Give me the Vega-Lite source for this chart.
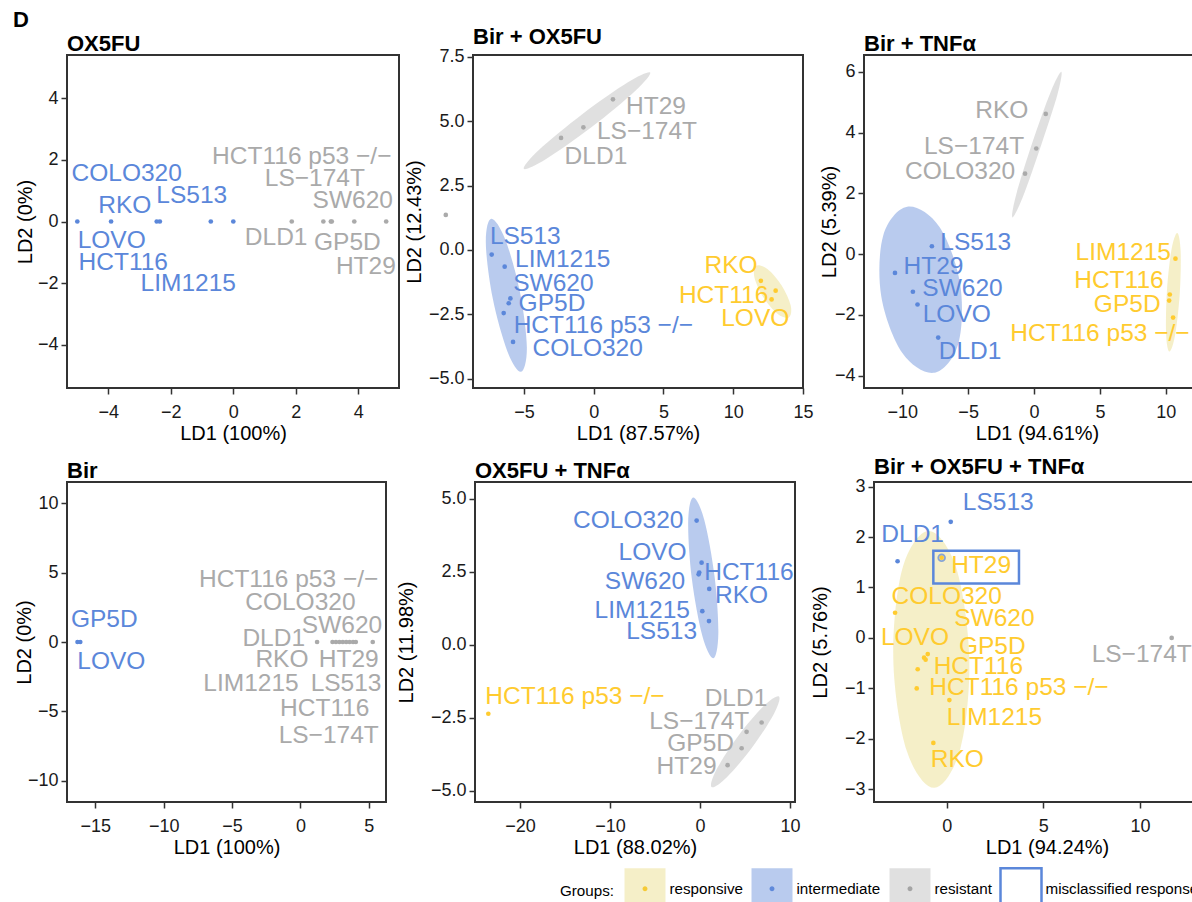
{
"$schema": "https://vega.github.io/schema/vega-lite/v6.json",
"background": "white",
"padding": {"left": 13, "top": 8, "right": 0, "bottom": 0},
"title": {"text": "D", "frame": "bounds", "anchor": "start", "fontSize": 22, "fontWeight": "bold", "offset": -7},
"config": {
 "font": "Liberation Sans",
 "view": {"stroke": "#333333", "strokeWidth": 2},
 "axis": {"grid": false, "domain": false, "ticks": true, "tickColor": "#333333", "tickSize": 6, "tickWidth": 1.5, "labelFont": "Liberation Sans", "labelFontSize": 18, "labelColor": "#1a1a1a", "labelPadding": 3, "labelFlush": false, "labelOverlap": false, "titleFont": "Liberation Sans", "titleFontSize": 20, "titleFontWeight": "normal", "titleColor": "#000000", "titlePadding": 2},
 "axisX": {"labelPadding": 9},
 "title": {"font": "Liberation Sans", "fontSize": 22, "fontWeight": "bold", "anchor": "start", "frame": "group", "offset": -1, "color": "#000000"},
 "text": {"font": "Liberation Sans"},
 "legend": {"labelFont": "Liberation Sans", "titleFont": "Liberation Sans"}
},
"datasets": {
 "pts": [
  {"p":1,"n":"COLO320","g":"intermediate","x":-2.45,"y":0,"lx":-3.41,"ly":1.53},
  {"p":1,"n":"RKO","g":"intermediate","x":-3.91,"y":0,"lx":-3.47,"ly":0.49},
  {"p":1,"n":"LS513","g":"intermediate","x":-0.72,"y":0,"lx":-1.33,"ly":0.82},
  {"p":1,"n":"LOVO","g":"intermediate","x":-4.99,"y":0,"lx":-3.89,"ly":-0.62},
  {"p":1,"n":"HCT116","g":"intermediate","x":-2.35,"y":0,"lx":-3.52,"ly":-1.33},
  {"p":1,"n":"LIM1215","g":"intermediate","x":0.0,"y":0,"lx":-1.44,"ly":-2.03},
  {"p":1,"n":"HCT116 p53 −/−","g":"resistant","x":3.12,"y":0,"lx":2.19,"ly":2.09},
  {"p":1,"n":"LS−174T","g":"resistant","x":3.15,"y":0,"lx":2.61,"ly":1.39},
  {"p":1,"n":"SW620","g":"resistant","x":3.87,"y":0,"lx":3.82,"ly":0.65},
  {"p":1,"n":"DLD1","g":"resistant","x":1.87,"y":0,"lx":1.37,"ly":-0.55},
  {"p":1,"n":"GP5D","g":"resistant","x":2.88,"y":0,"lx":3.65,"ly":-0.69},
  {"p":1,"n":"HT29","g":"resistant","x":4.89,"y":0,"lx":4.24,"ly":-1.46},
  {"p":2,"n":"DLD1","g":"resistant","x":-2.34,"y":4.35,"lx":0.16,"ly":3.61},
  {"p":2,"n":"LS−174T","g":"resistant","x":-0.74,"y":4.76,"lx":3.82,"ly":4.58},
  {"p":2,"n":"HT29","g":"resistant","x":1.38,"y":5.85,"lx":4.46,"ly":5.55},
  {"p":2,"n":"","g":"resistant","x":-10.6,"y":1.36,"lx":-10.6,"ly":1.36},
  {"p":2,"n":"LS513","g":"intermediate","x":-7.31,"y":-0.18,"lx":-4.9,"ly":0.49},
  {"p":2,"n":"LIM1215","g":"intermediate","x":-6.38,"y":-0.65,"lx":-2.22,"ly":-0.39},
  {"p":2,"n":"SW620","g":"intermediate","x":-5.97,"y":-1.88,"lx":-2.89,"ly":-1.32},
  {"p":2,"n":"GP5D","g":"intermediate","x":-6.09,"y":-2.07,"lx":-2.99,"ly":-2.08},
  {"p":2,"n":"HCT116 p53 −/−","g":"intermediate","x":-6.45,"y":-2.45,"lx":0.69,"ly":-2.94},
  {"p":2,"n":"COLO320","g":"intermediate","x":-5.78,"y":-3.57,"lx":-0.43,"ly":-3.86},
  {"p":2,"n":"RKO","g":"responsive","x":11.98,"y":-1.2,"lx":9.84,"ly":-0.62},
  {"p":2,"n":"HCT116","g":"responsive","x":13.04,"y":-1.58,"lx":9.31,"ly":-1.78},
  {"p":2,"n":"LOVO","g":"responsive","x":12.75,"y":-1.92,"lx":11.58,"ly":-2.7},
  {"p":3,"n":"RKO","g":"resistant","x":0.89,"y":4.62,"lx":-2.45,"ly":4.72},
  {"p":3,"n":"LS−174T","g":"resistant","x":0.17,"y":3.48,"lx":-4.55,"ly":3.54},
  {"p":3,"n":"COLO320","g":"resistant","x":-0.68,"y":2.65,"lx":-5.61,"ly":2.7},
  {"p":3,"n":"LS513","g":"intermediate","x":-7.75,"y":0.26,"lx":-4.42,"ly":0.36},
  {"p":3,"n":"HT29","g":"intermediate","x":-10.55,"y":-0.62,"lx":-7.63,"ly":-0.41},
  {"p":3,"n":"SW620","g":"intermediate","x":-9.19,"y":-1.24,"lx":-5.43,"ly":-1.16},
  {"p":3,"n":"LOVO","g":"intermediate","x":-8.84,"y":-1.66,"lx":-5.86,"ly":-2.01},
  {"p":3,"n":"DLD1","g":"intermediate","x":-7.27,"y":-2.75,"lx":-4.85,"ly":-3.21},
  {"p":3,"n":"LIM1215","g":"responsive","x":10.73,"y":-0.15,"lx":6.77,"ly":0.04},
  {"p":3,"n":"HCT116","g":"responsive","x":10.3,"y":-1.33,"lx":6.44,"ly":-0.88},
  {"p":3,"n":"GP5D","g":"responsive","x":10.25,"y":-1.53,"lx":7.07,"ly":-1.68},
  {"p":3,"n":"HCT116 p53 −/−","g":"responsive","x":10.55,"y":-2.09,"lx":5.0,"ly":-2.64},
  {"p":4,"n":"GP5D","g":"intermediate","x":-16.3,"y":0,"lx":-14.34,"ly":1.57},
  {"p":4,"n":"LOVO","g":"intermediate","x":-16.1,"y":0,"lx":-13.83,"ly":-1.45},
  {"p":4,"n":"DLD1","g":"resistant","x":1.22,"y":0,"lx":-1.95,"ly":0.2},
  {"p":4,"n":"HCT116 p53 −/−","g":"resistant","x":2.35,"y":0,"lx":-0.86,"ly":4.48},
  {"p":4,"n":"COLO320","g":"resistant","x":2.6,"y":0,"lx":0.0,"ly":2.81},
  {"p":4,"n":"SW620","g":"resistant","x":2.85,"y":0,"lx":3.04,"ly":1.16},
  {"p":4,"n":"RKO","g":"resistant","x":3.1,"y":0,"lx":-1.35,"ly":-1.33},
  {"p":4,"n":"HT29","g":"resistant","x":3.35,"y":0,"lx":3.53,"ly":-1.33},
  {"p":4,"n":"LIM1215","g":"resistant","x":3.6,"y":0,"lx":-3.61,"ly":-3.03},
  {"p":4,"n":"LS513","g":"resistant","x":3.85,"y":0,"lx":3.34,"ly":-3.03},
  {"p":4,"n":"HCT116","g":"resistant","x":4.05,"y":0,"lx":1.78,"ly":-4.84},
  {"p":4,"n":"LS−174T","g":"resistant","x":5.29,"y":0,"lx":2.07,"ly":-6.77},
  {"p":5,"n":"COLO320","g":"intermediate","x":-0.37,"y":4.25,"lx":-7.97,"ly":4.25},
  {"p":5,"n":"LOVO","g":"intermediate","x":0.18,"y":2.81,"lx":-5.26,"ly":3.15},
  {"p":5,"n":"HCT116","g":"intermediate","x":-0.08,"y":2.47,"lx":5.44,"ly":2.47},
  {"p":5,"n":"SW620","g":"intermediate","x":-0.15,"y":2.41,"lx":-6.11,"ly":2.15},
  {"p":5,"n":"RKO","g":"intermediate","x":1.03,"y":1.91,"lx":4.63,"ly":1.66},
  {"p":5,"n":"LIM1215","g":"intermediate","x":0.26,"y":1.15,"lx":-6.41,"ly":1.15},
  {"p":5,"n":"LS513","g":"intermediate","x":1.0,"y":0.81,"lx":-4.26,"ly":0.43},
  {"p":5,"n":"HCT116 p53 −/−","g":"responsive","x":-23.52,"y":-2.36,"lx":-13.89,"ly":-1.8},
  {"p":5,"n":"DLD1","g":"resistant","x":6.85,"y":-2.66,"lx":4.0,"ly":-1.86},
  {"p":5,"n":"LS−174T","g":"resistant","x":5.18,"y":-2.98,"lx":-0.08,"ly":-2.63},
  {"p":5,"n":"GP5D","g":"resistant","x":4.63,"y":-3.54,"lx":0.07,"ly":-3.4},
  {"p":5,"n":"HT29","g":"resistant","x":3.07,"y":-4.12,"lx":-1.49,"ly":-4.17},
  {"p":6,"n":"LS513","g":"intermediate","x":0.21,"y":2.3,"lx":2.67,"ly":2.68},
  {"p":6,"n":"DLD1","g":"intermediate","x":-2.54,"y":1.52,"lx":-1.76,"ly":2.04},
  {"p":6,"n":"HT29","g":"responsive","x":-0.26,"y":1.59,"lx":1.78,"ly":1.43,"m":1},
  {"p":6,"n":"COLO320","g":"responsive","x":-2.67,"y":0.5,"lx":0.0,"ly":0.81},
  {"p":6,"n":"SW620","g":"responsive","x":-0.98,"y":-0.32,"lx":2.47,"ly":0.38},
  {"p":6,"n":"LOVO","g":"responsive","x":-1.17,"y":-0.39,"lx":-1.64,"ly":-0.01},
  {"p":6,"n":"GP5D","g":"responsive","x":-1.09,"y":-0.43,"lx":2.36,"ly":-0.18},
  {"p":6,"n":"HCT116","g":"responsive","x":-1.5,"y":-0.62,"lx":1.64,"ly":-0.57},
  {"p":6,"n":"HCT116 p53 −/−","g":"responsive","x":-1.55,"y":-1.0,"lx":3.74,"ly":-1.0},
  {"p":6,"n":"LIM1215","g":"responsive","x":0.14,"y":-1.23,"lx":2.47,"ly":-1.59},
  {"p":6,"n":"RKO","g":"responsive","x":-0.69,"y":-2.08,"lx":0.55,"ly":-2.41},
  {"p":6,"n":"LS−174T","g":"resistant","x":11.64,"y":0,"lx":10.09,"ly":-0.34}
 ],
 "ell": [
  {"p":2,"g":"resistant","i":0,"x":4.05,"y":6.89},{"p":2,"g":"resistant","i":1,"x":2.97,"y":6.17},{"p":2,"g":"resistant","i":2,"x":-0.14,"y":4.77},{"p":2,"g":"resistant","i":3,"x":-3.44,"y":3.52},{"p":2,"g":"resistant","i":4,"x":-5.01,"y":3.15},{"p":2,"g":"resistant","i":5,"x":-3.93,"y":3.88},{"p":2,"g":"resistant","i":6,"x":-0.82,"y":5.27},{"p":2,"g":"resistant","i":7,"x":2.48,"y":6.52},
  {"p":2,"g":"intermediate","i":0,"x":-5.21,"y":-4.73},{"p":2,"g":"intermediate","i":1,"x":-6.19,"y":-3.93},{"p":2,"g":"intermediate","i":2,"x":-7.24,"y":-1.87},{"p":2,"g":"intermediate","i":3,"x":-7.73,"y":0.26},{"p":2,"g":"intermediate","i":4,"x":-7.35,"y":1.21},{"p":2,"g":"intermediate","i":5,"x":-6.34,"y":0.41},{"p":2,"g":"intermediate","i":6,"x":-5.28,"y":-1.65},{"p":2,"g":"intermediate","i":7,"x":-4.79,"y":-3.78},
  {"p":2,"g":"responsive","i":0,"x":13.99,"y":-2.62},{"p":2,"g":"responsive","i":1,"x":13.19,"y":-2.49},{"p":2,"g":"responsive","i":2,"x":12.17,"y":-1.85},{"p":2,"g":"responsive","i":3,"x":11.52,"y":-1.07},{"p":2,"g":"responsive","i":4,"x":11.64,"y":-0.61},{"p":2,"g":"responsive","i":5,"x":12.45,"y":-0.74},{"p":2,"g":"responsive","i":6,"x":13.47,"y":-1.38},{"p":2,"g":"responsive","i":7,"x":14.12,"y":-2.16},
  {"p":3,"g":"resistant","i":0,"x":2.07,"y":6.01},{"p":3,"g":"resistant","i":1,"x":1.78,"y":5.27},{"p":3,"g":"resistant","i":2,"x":0.57,"y":3.63},{"p":3,"g":"resistant","i":3,"x":-0.85,"y":1.88},{"p":3,"g":"resistant","i":4,"x":-1.64,"y":1.21},{"p":3,"g":"resistant","i":5,"x":-1.36,"y":1.95},{"p":3,"g":"resistant","i":6,"x":-0.14,"y":3.66},{"p":3,"g":"resistant","i":7,"x":1.27,"y":5.35},
  {"p":3,"g":"intermediate","i":0,"x":-7.58,"y":-3.91},{"p":3,"g":"intermediate","i":1,"x":-9.99,"y":-3.26},{"p":3,"g":"intermediate","i":2,"x":-11.59,"y":-1.39},{"p":3,"g":"intermediate","i":3,"x":-11.44,"y":0.61},{"p":3,"g":"intermediate","i":4,"x":-9.62,"y":1.56},{"p":3,"g":"intermediate","i":5,"x":-7.2,"y":0.91},{"p":3,"g":"intermediate","i":6,"x":-5.61,"y":-0.97},{"p":3,"g":"intermediate","i":7,"x":-5.76,"y":-2.97},
  {"p":3,"g":"responsive","i":0,"x":10.27,"y":-3.21},{"p":3,"g":"responsive","i":1,"x":10.02,"y":-2.63},{"p":3,"g":"responsive","i":2,"x":10.08,"y":-1.24},{"p":3,"g":"responsive","i":3,"x":10.42,"y":0.13},{"p":3,"g":"responsive","i":4,"x":10.86,"y":0.7},{"p":3,"g":"responsive","i":5,"x":11.12,"y":0.12},{"p":3,"g":"responsive","i":6,"x":11.06,"y":-1.27},{"p":3,"g":"responsive","i":7,"x":10.71,"y":-2.65},
  {"p":5,"g":"intermediate","i":0,"x":1.48,"y":-0.46},{"p":5,"g":"intermediate","i":1,"x":0.26,"y":0.31},{"p":5,"g":"intermediate","i":2,"x":-0.9,"y":2.25},{"p":5,"g":"intermediate","i":3,"x":-1.31,"y":4.21},{"p":5,"g":"intermediate","i":4,"x":-0.74,"y":5.04},{"p":5,"g":"intermediate","i":5,"x":0.48,"y":4.27},{"p":5,"g":"intermediate","i":6,"x":1.63,"y":2.32},{"p":5,"g":"intermediate","i":7,"x":2.04,"y":0.38},
  {"p":5,"g":"resistant","i":0,"x":8.78,"y":-1.77},{"p":5,"g":"resistant","i":1,"x":8.24,"y":-2.35},{"p":5,"g":"resistant","i":2,"x":5.83,"y":-3.5},{"p":5,"g":"resistant","i":3,"x":2.96,"y":-4.54},{"p":5,"g":"resistant","i":4,"x":1.29,"y":-4.87},{"p":5,"g":"resistant","i":5,"x":1.82,"y":-4.28},{"p":5,"g":"resistant","i":6,"x":4.23,"y":-3.13},{"p":5,"g":"resistant","i":7,"x":7.11,"y":-2.09},
  {"p":6,"g":"responsive","i":0,"x":-0.64,"y":-2.97},{"p":6,"g":"responsive","i":1,"x":-2.07,"y":-2.23},{"p":6,"g":"responsive","i":2,"x":-2.76,"y":-0.44},{"p":6,"g":"responsive","i":3,"x":-2.3,"y":1.36},{"p":6,"g":"responsive","i":4,"x":-0.94,"y":2.12},{"p":6,"g":"responsive","i":5,"x":0.49,"y":1.39},{"p":6,"g":"responsive","i":6,"x":1.17,"y":-0.41},{"p":6,"g":"responsive","i":7,"x":0.71,"y":-2.19}
 ],
 "box": [
  {"p":6,"x1":-0.69,"x2":3.74,"y1":1.08,"y2":1.73}
 ]
},
"spacing": 10,
"vconcat": [
 {"spacing": 3, "hconcat": [
  {"width": 332, "height": 333, "title": "OX5FU",
   "data": {"name": "pts"}, "transform": [{"filter": "datum.p == 1"}],
   "encoding": {
    "x": {"field": "x", "type": "quantitative", "title": "LD1 (100%)", "scale": {"domain": [-5.32, 5.3], "nice": false, "zero": false}, "axis": {"values": [-4,-2,0,2,4]}},
    "y": {"field": "y", "type": "quantitative", "title": "LD2 (0%)", "scale": {"domain": [-5.4, 5.4], "nice": false, "zero": false}, "axis": {"values": [-4,-2,0,2,4], "minExtent": 30, "maxExtent": 30}}
   },
   "layer": [
    {"mark": {"type": "point", "filled": true, "size": 22, "opacity": 1},
     "encoding": {"fill": {"field": "g", "type": "nominal", "scale": {"domain": ["responsive","intermediate","resistant"], "range": ["#ffcb2f","#5b87da","#aaaaaa"]},
       "legend": {"title": "Groups:", "orient": "none", "legendX": 493, "legendY": 811.5, "direction": "horizontal", "titleOrient": "left", "titleAnchor": "middle", "titleBaseline": "middle", "titleFontSize": 15.2, "titleFontWeight": "normal", "titleColor": "transparent", "titlePadding": 8, "symbolType": "M-1,-1M1,1M-0.12,0A0.12,0.12,0,1,0,0.12,0A0.12,0.12,0,1,0,-0.12,0Z", "symbolSize": 1681, "symbolStrokeWidth": 2.5, "symbolStrokeColor": "transparent", "labelFontSize": 15.2, "labelColor": "transparent", "labelOffset": 2.5, "labelBaseline": "middle", "columnPadding": 3, "labelLimit": 300}}}},
    {"mark": {"type": "text", "fontSize": 24.5},
     "encoding": {"x": {"field": "lx", "type": "quantitative", "title": "LD1 (100%)"}, "y": {"field": "ly", "type": "quantitative", "title": "LD2 (0%)"}, "text": {"field": "n"},
      "fill": {"field": "g", "type": "nominal", "scale": {"domain": ["responsive","intermediate","resistant"], "range": ["#ffcb2f","#5b87da","#aaaaaa"]}}}}
   ]
  },
  {"width": 330, "height": 333, "title": "Bir + OX5FU",
   "data": {"name": "pts"}, "transform": [{"filter": "datum.p == 2"}],
   "encoding": {
    "x": {"field": "x", "type": "quantitative", "title": "LD1 (87.57%)", "scale": {"domain": [-8.65, 15.0], "nice": false, "zero": false}, "axis": {"values": [-5,0,5,10,15]}},
    "y": {"field": "y", "type": "quantitative", "title": "LD2 (12.43%)", "scale": {"domain": [-5.36, 7.57], "nice": false, "zero": false}, "axis": {"values": [-5,-2.5,0,2.5,5,7.5], "format": ".1f", "minExtent": 47, "maxExtent": 47}}
   },
   "layer": [
    {"data": {"name": "ell"}, "transform": [{"filter": "datum.p == 2"}],
     "mark": {"type": "line", "filled": true, "interpolate": "cardinal-closed", "strokeWidth": 2.5},
     "encoding": {
      "color": {"field": "g", "type": "nominal", "scale": {"domain": ["responsive","intermediate","resistant","misclassified response"], "range": ["rgba(222,202,72,0.3)","rgba(99,139,217,0.45)","rgba(152,152,152,0.3)","transparent"]},
        "legend": {"title": "Groups:", "orient": "none", "legendX": 493, "legendY": 811.5, "direction": "horizontal", "titleOrient": "left", "titleAnchor": "middle", "titleBaseline": "middle", "titleFontSize": 15.2, "titleFontWeight": "normal", "titleColor": "#000000", "titlePadding": 8, "symbolType": "square", "symbolSize": 1681, "symbolStrokeWidth": 2.5, "labelFontSize": 15.2, "labelColor": "#000000", "labelOffset": 2.5, "labelBaseline": "middle", "columnPadding": 3, "labelLimit": 300}},
      "stroke": {"field": "g", "type": "nominal", "scale": {"domain": ["responsive","intermediate","resistant","misclassified response"], "range": ["transparent","transparent","transparent","#5b87da"]},
        "legend": {"title": "Groups:", "orient": "none", "legendX": 493, "legendY": 811.5, "direction": "horizontal", "titleOrient": "left", "titleAnchor": "middle", "titleBaseline": "middle", "titleFontSize": 15.2, "titleFontWeight": "normal", "titleColor": "#000000", "titlePadding": 8, "symbolType": "square", "symbolSize": 1681, "symbolStrokeWidth": 2.5, "labelFontSize": 15.2, "labelColor": "#000000", "labelOffset": 2.5, "labelBaseline": "middle", "columnPadding": 3, "labelLimit": 300}},
      "order": {"field": "i", "type": "quantitative"}}},
    {"mark": {"type": "point", "filled": true, "size": 22, "opacity": 1},
     "encoding": {"fill": {"field": "g", "type": "nominal", "scale": {"domain": ["responsive","intermediate","resistant"], "range": ["#ffcb2f","#5b87da","#aaaaaa"]}}}},
    {"mark": {"type": "text", "fontSize": 24.5},
     "encoding": {"x": {"field": "lx", "type": "quantitative", "title": "LD1 (87.57%)"}, "y": {"field": "ly", "type": "quantitative", "title": "LD2 (12.43%)"}, "text": {"field": "n"},
      "fill": {"field": "g", "type": "nominal", "scale": {"domain": ["responsive","intermediate","resistant"], "range": ["#ffcb2f","#5b87da","#aaaaaa"]}}}}
   ]
  },
  {"width": 346, "height": 333, "title": "Bir + TNFα",
   "data": {"name": "pts"}, "transform": [{"filter": "datum.p == 3"}],
   "encoding": {
    "x": {"field": "x", "type": "quantitative", "title": "LD1 (94.61%)", "scale": {"domain": [-12.9, 13.35], "nice": false, "zero": false}, "axis": {"values": [-10,-5,0,5,10]}},
    "y": {"field": "y", "type": "quantitative", "title": "LD2 (5.39%)", "scale": {"domain": [-4.41, 6.56], "nice": false, "zero": false}, "axis": {"values": [-4,-2,0,2,4,6], "minExtent": 23, "maxExtent": 23}}
   },
   "layer": [
    {"data": {"name": "ell"}, "transform": [{"filter": "datum.p == 3"}],
     "mark": {"type": "line", "filled": true, "interpolate": "cardinal-closed", "strokeWidth": 2.5},
     "encoding": {
      "color": {"field": "g", "type": "nominal", "scale": {"domain": ["responsive","intermediate","resistant","misclassified response"], "range": ["rgba(222,202,72,0.3)","rgba(99,139,217,0.45)","rgba(152,152,152,0.3)","transparent"]}},
      "stroke": {"field": "g", "type": "nominal", "scale": {"domain": ["responsive","intermediate","resistant","misclassified response"], "range": ["transparent","transparent","transparent","#5b87da"]}},
      "order": {"field": "i", "type": "quantitative"}}},
    {"mark": {"type": "point", "filled": true, "size": 22, "opacity": 1},
     "encoding": {"fill": {"field": "g", "type": "nominal", "scale": {"domain": ["responsive","intermediate","resistant"], "range": ["#ffcb2f","#5b87da","#aaaaaa"]}}}},
    {"mark": {"type": "text", "fontSize": 24.5},
     "encoding": {"x": {"field": "lx", "type": "quantitative", "title": "LD1 (94.61%)"}, "y": {"field": "ly", "type": "quantitative", "title": "LD2 (5.39%)"}, "text": {"field": "n"},
      "fill": {"field": "g", "type": "nominal", "scale": {"domain": ["responsive","intermediate","resistant"], "range": ["#ffcb2f","#5b87da","#aaaaaa"]}}}}
   ]
  }
 ]},
 {"spacing": 8, "hconcat": [
  {"width": 319, "height": 320, "title": "Bir",
   "data": {"name": "pts"}, "transform": [{"filter": "datum.p == 4"}],
   "encoding": {
    "x": {"field": "x", "type": "quantitative", "title": "LD1 (100%)", "scale": {"domain": [-17.07, 6.26], "nice": false, "zero": false}, "axis": {"values": [-15,-10,-5,0,5]}},
    "y": {"field": "y", "type": "quantitative", "title": "LD2 (0%)", "scale": {"domain": [-11.55, 11.55], "nice": false, "zero": false}, "axis": {"values": [-10,-5,0,5,10], "minExtent": 31, "maxExtent": 31}}
   },
   "layer": [
    {"mark": {"type": "point", "filled": true, "size": 22, "opacity": 1},
     "encoding": {"fill": {"field": "g", "type": "nominal", "scale": {"domain": ["responsive","intermediate","resistant"], "range": ["#ffcb2f","#5b87da","#aaaaaa"]}}}},
    {"mark": {"type": "text", "fontSize": 24.5},
     "encoding": {"x": {"field": "lx", "type": "quantitative", "title": "LD1 (100%)"}, "y": {"field": "ly", "type": "quantitative", "title": "LD2 (0%)"}, "text": {"field": "n"},
      "fill": {"field": "g", "type": "nominal", "scale": {"domain": ["responsive","intermediate","resistant"], "range": ["#ffcb2f","#5b87da","#aaaaaa"]}}}}
   ]
  },
  {"width": 320, "height": 320, "title": "OX5FU + TNFα",
   "data": {"name": "pts"}, "transform": [{"filter": "datum.p == 5"}],
   "encoding": {
    "x": {"field": "x", "type": "quantitative", "title": "LD1 (88.02%)", "scale": {"domain": [-25.0, 10.56], "nice": false, "zero": false}, "axis": {"values": [-20,-10,0,10]}},
    "y": {"field": "y", "type": "quantitative", "title": "LD2 (11.98%)", "scale": {"domain": [-5.38, 5.57], "nice": false, "zero": false}, "axis": {"values": [-5,-2.5,0,2.5,5], "format": ".1f", "minExtent": 57, "maxExtent": 57}}
   },
   "layer": [
    {"data": {"name": "ell"}, "transform": [{"filter": "datum.p == 5"}],
     "mark": {"type": "line", "filled": true, "interpolate": "cardinal-closed", "strokeWidth": 2.5},
     "encoding": {
      "color": {"field": "g", "type": "nominal", "scale": {"domain": ["responsive","intermediate","resistant","misclassified response"], "range": ["rgba(222,202,72,0.3)","rgba(99,139,217,0.45)","rgba(152,152,152,0.3)","transparent"]}},
      "stroke": {"field": "g", "type": "nominal", "scale": {"domain": ["responsive","intermediate","resistant","misclassified response"], "range": ["transparent","transparent","transparent","#5b87da"]}},
      "order": {"field": "i", "type": "quantitative"}}},
    {"mark": {"type": "point", "filled": true, "size": 22, "opacity": 1},
     "encoding": {"fill": {"field": "g", "type": "nominal", "scale": {"domain": ["responsive","intermediate","resistant"], "range": ["#ffcb2f","#5b87da","#aaaaaa"]}}}},
    {"mark": {"type": "text", "fontSize": 24.5},
     "encoding": {"x": {"field": "lx", "type": "quantitative", "title": "LD1 (88.02%)"}, "y": {"field": "ly", "type": "quantitative", "title": "LD2 (11.98%)"}, "text": {"field": "n"},
      "fill": {"field": "g", "type": "nominal", "scale": {"domain": ["responsive","intermediate","resistant"], "range": ["#ffcb2f","#5b87da","#aaaaaa"]}}}}
   ]
  },
  {"width": 346, "height": 320, "title": "Bir + OX5FU + TNFα",
   "data": {"name": "pts"}, "transform": [{"filter": "datum.p == 6"}],
   "encoding": {
    "x": {"field": "x", "type": "quantitative", "title": "LD1 (94.24%)", "scale": {"domain": [-3.76, 14.14], "nice": false, "zero": false}, "axis": {"values": [0,5,10]}},
    "y": {"field": "y", "type": "quantitative", "title": "LD2 (5.76%)", "scale": {"domain": [-3.25, 3.09], "nice": false, "zero": false}, "axis": {"values": [-3,-2,-1,0,1,2,3], "minExtent": 42, "maxExtent": 42}}
   },
   "layer": [
    {"data": {"name": "ell"}, "transform": [{"filter": "datum.p == 6"}],
     "mark": {"type": "line", "filled": true, "interpolate": "cardinal-closed", "strokeWidth": 2.5},
     "encoding": {
      "color": {"field": "g", "type": "nominal", "scale": {"domain": ["responsive","intermediate","resistant","misclassified response"], "range": ["rgba(222,202,72,0.3)","rgba(99,139,217,0.45)","rgba(152,152,152,0.3)","transparent"]}},
      "stroke": {"field": "g", "type": "nominal", "scale": {"domain": ["responsive","intermediate","resistant","misclassified response"], "range": ["transparent","transparent","transparent","#5b87da"]}},
      "order": {"field": "i", "type": "quantitative"}}},
    {"mark": {"type": "point", "filled": true, "size": 22, "opacity": 1},
     "encoding": {"fill": {"field": "g", "type": "nominal", "scale": {"domain": ["responsive","intermediate","resistant"], "range": ["#ffcb2f","#5b87da","#aaaaaa"]}}}},
    {"transform": [{"filter": "datum.m == 1"}],
     "mark": {"type": "point", "filled": false, "color": "#5b87da", "fill": "transparent", "strokeWidth": 1.8, "size": 45}},
    {"mark": {"type": "text", "fontSize": 24.5},
     "encoding": {"x": {"field": "lx", "type": "quantitative", "title": "LD1 (94.24%)"}, "y": {"field": "ly", "type": "quantitative", "title": "LD2 (5.76%)"}, "text": {"field": "n"},
      "fill": {"field": "g", "type": "nominal", "scale": {"domain": ["responsive","intermediate","resistant"], "range": ["#ffcb2f","#5b87da","#aaaaaa"]}}}},
    {"data": {"name": "box"},
     "mark": {"type": "rect", "filled": false, "stroke": "#5b87da", "strokeWidth": 2.5},
     "encoding": {"x": {"field": "x1", "type": "quantitative", "title": "LD1 (94.24%)"}, "x2": {"field": "x2"}, "y": {"field": "y1", "type": "quantitative", "title": "LD2 (5.76%)"}, "y2": {"field": "y2"}}}
   ]
  }
 ]}
]
}
